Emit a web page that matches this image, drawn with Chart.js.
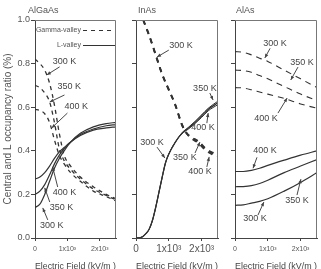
<!DOCTYPE html>
<html><head><meta charset="utf-8">
<script src="https://cdn.jsdelivr.net/npm/chart.js@4.4.1/dist/chart.umd.min.js"></script>
<style>
html,body{margin:0;padding:0;background:#fff;overflow:hidden;width:321px;height:269px;position:relative;}
canvas{position:absolute;top:0;}
</style></head><body>
<canvas id="c1" width="120" height="275" style="left:0px"></canvas>
<canvas id="c2" width="102" height="275" style="left:120px"></canvas>
<canvas id="c3" width="99" height="275" style="left:222px"></canvas>
<script>
// ---------- data ----------
const panelTitles = ['AlGaAs', 'InAs', 'AlAs'];
const yTickValues = [0, 0.2, 0.4, 0.6, 0.8, 1.0];
const xTickValues = [0, 1000, 2000];
const tempLabels = ['300 K', '350 K', '400 K'];

// AlGaAs
const algaasField = [0, 150, 300, 450, 600, 750, 900, 1100, 1400, 1800, 2200, 2500];
const algaasGamma300 = [0.82, 0.80, 0.77, 0.71, 0.61, 0.48, 0.38, 0.33, 0.28, 0.235, 0.20, 0.18];
const algaasGamma350 = [0.70, 0.69, 0.665, 0.625, 0.53, 0.41, 0.355, 0.315, 0.27, 0.225, 0.195, 0.175];
const algaasGamma400 = [0.59, 0.585, 0.57, 0.53, 0.45, 0.38, 0.34, 0.30, 0.26, 0.215, 0.19, 0.17];
const algaasL300 = [0.14, 0.155, 0.20, 0.26, 0.32, 0.365, 0.40, 0.44, 0.48, 0.51, 0.525, 0.53];
const algaasL350 = [0.20, 0.215, 0.245, 0.29, 0.34, 0.38, 0.41, 0.44, 0.475, 0.50, 0.515, 0.52];
const algaasL400 = [0.27, 0.28, 0.30, 0.33, 0.365, 0.395, 0.415, 0.44, 0.47, 0.495, 0.505, 0.51];

// InAs
const inasGammaField = [220, 400, 600, 800, 1000, 1200, 1400, 1550, 1700, 1900, 2100, 2300, 2500];
const inasGamma300 = [1.0, 0.93, 0.84, 0.75, 0.68, 0.61, 0.52, 0.48, 0.46, 0.44, 0.41, 0.39, 0.38];
const inasGamma350 = [1.0, 0.93, 0.84, 0.75, 0.68, 0.61, 0.52, 0.48, 0.462, 0.445, 0.415, 0.395, 0.385];
const inasGamma400 = [1.0, 0.93, 0.84, 0.75, 0.68, 0.61, 0.52, 0.478, 0.455, 0.435, 0.405, 0.385, 0.375];
const inasLField = [0, 100, 200, 300, 400, 500, 600, 700, 800, 900, 1000, 1200, 1400, 1600, 1800, 2000, 2200, 2500];
const inasL300 = [0, 0.001, 0.006, 0.02, 0.04, 0.08, 0.14, 0.21, 0.28, 0.345, 0.385, 0.44, 0.48, 0.505, 0.53, 0.56, 0.59, 0.62];
const inasL350 = [0, 0.001, 0.006, 0.02, 0.04, 0.08, 0.14, 0.21, 0.28, 0.345, 0.385, 0.44, 0.482, 0.508, 0.535, 0.565, 0.595, 0.628];
const inasL400 = [0, 0.001, 0.006, 0.02, 0.04, 0.08, 0.14, 0.21, 0.28, 0.345, 0.385, 0.44, 0.478, 0.50, 0.525, 0.553, 0.583, 0.612];

// AlAs
const alasField = [0, 250, 500, 750, 1000, 1500, 2000, 2500];
const alasGamma300 = [0.855, 0.852, 0.84, 0.825, 0.81, 0.77, 0.73, 0.69];
const alasGamma350 = [0.77, 0.768, 0.76, 0.745, 0.73, 0.695, 0.66, 0.63];
const alasGamma400 = [0.69, 0.688, 0.68, 0.67, 0.66, 0.64, 0.615, 0.595];
const alasL300 = [0.15, 0.152, 0.16, 0.168, 0.18, 0.215, 0.255, 0.30];
const alasL350 = [0.235, 0.236, 0.24, 0.25, 0.265, 0.30, 0.33, 0.36];
const alasL400 = [0.305, 0.305, 0.31, 0.32, 0.333, 0.357, 0.38, 0.40];

// annotations: [label, text x, text y, arrow from x, from y, arrow to x, to y] in data units
const algaasNotes = [
  [tempLabels[0], 910, 0.81, 760, 0.785, 364, 0.748],
  [tempLabels[1], 1060, 0.693, 910, 0.656, 455, 0.624],
  [tempLabels[2], 1270, 0.605, 1000, 0.573, 515, 0.505],
  [tempLabels[2], 910, 0.21, 700, 0.234, 545, 0.326],
  [tempLabels[1], 820, 0.138, 455, 0.165, 300, 0.23],
  [tempLabels[0], 515, 0.055, 394, 0.083, 240, 0.138]
];
const inasNotes = [
  [tempLabels[0], 1370, 0.885, 1000, 0.862, 640, 0.83],
  [tempLabels[1], 2100, 0.688, 2250, 0.665, 2350, 0.633],
  [tempLabels[2], 2040, 0.505, 2160, 0.527, 2200, 0.573],
  [tempLabels[0], 490, 0.436, 640, 0.417, 880, 0.367],
  [tempLabels[1], 1490, 0.367, 1800, 0.39, 1950, 0.44],
  [tempLabels[2], 1950, 0.307, 2160, 0.326, 2230, 0.372]
];
const alasNotes = [
  [tempLabels[0], 1220, 0.894, 1070, 0.87, 910, 0.826],
  [tempLabels[1], 2040, 0.807, 1920, 0.784, 1700, 0.725],
  [tempLabels[2], 945, 0.55, 1310, 0.573, 1590, 0.642],
  [tempLabels[2], 915, 0.40, 670, 0.37, 550, 0.32],
  [tempLabels[1], 1890, 0.174, 1890, 0.197, 2010, 0.27],
  [tempLabels[0], 610, 0.09, 700, 0.105, 880, 0.165]
];
const legendLabels = ['Gamma-valley', 'L-valley'];
const xTitle = 'Electric Field (kV/m )';
const yTitle = 'Central and L occupancy ratio (%)';

// ---------- rendering ----------
Chart.defaults.font.family = '"Liberation Sans", Arial, Helvetica, sans-serif';
Chart.defaults.color = '#555';
const INK = '#333';

function series(xs, ys, dashed, width, dash) {
  return {
    data: xs.map((x, i) => ({x: x, y: ys[i]})),
    borderColor: INK, borderWidth: width,
    borderDash: dashed ? dash : [],
    pointRadius: 0, fill: false,
    cubicInterpolationMode: 'monotone'
  };
}

function drawArrow(ctx, x1, y1, x2, y2) {
  ctx.beginPath(); ctx.moveTo(x1, y1); ctx.lineTo(x2, y2); ctx.stroke();
  const a = Math.atan2(y2 - y1, x2 - x1), L = 4, w = 1.7;
  ctx.beginPath();
  ctx.moveTo(x2, y2);
  ctx.lineTo(x2 - L * Math.cos(a) + w * Math.sin(a), y2 - L * Math.sin(a) - w * Math.cos(a));
  ctx.lineTo(x2 - L * Math.cos(a) - w * Math.sin(a), y2 - L * Math.sin(a) + w * Math.cos(a));
  ctx.closePath(); ctx.fill();
}

const decorPlugin = {
  id: 'decor',
  afterDraw(chart, args, o) {
    const ctx = chart.ctx, a = chart.chartArea, xs = chart.scales.x, ys = chart.scales.y;
    ctx.save();
    // frame (top & right)
    ctx.strokeStyle = '#777'; ctx.lineWidth = 1;
    ctx.beginPath();
    ctx.moveTo(a.left, a.top + 0.5); ctx.lineTo(a.right - 0.5, a.top + 0.5); ctx.lineTo(a.right - 0.5, a.bottom);
    ctx.stroke();
    // title
    ctx.fillStyle = '#555'; ctx.font = '9px "Liberation Sans", Arial, sans-serif';
    ctx.textAlign = 'left'; ctx.textBaseline = 'middle';
    ctx.fillText(o.title, a.left + o.titleDx, 11);
    // annotations
    ctx.fillStyle = '#444'; ctx.strokeStyle = '#333'; ctx.lineWidth = 0.9;
    ctx.font = '9px "Liberation Sans", Arial, sans-serif'; ctx.textAlign = 'center';
    (o.notes || []).forEach(n => {
      ctx.fillText(n[0], xs.getPixelForValue(n[1]), ys.getPixelForValue(n[2]));
      drawArrow(ctx, xs.getPixelForValue(n[3]), ys.getPixelForValue(n[4]),
        xs.getPixelForValue(n[5]), ys.getPixelForValue(n[6]));
    });
    // legend
    if (o.legend) {
      ctx.font = '7px "Liberation Sans", Arial, sans-serif'; ctx.textAlign = 'right';
      ctx.fillStyle = '#555';
      const rows = [[legendLabels[0], true, 10], [legendLabels[1], false, 25]];
      rows.forEach(r => {
        const y = Math.round(a.top + r[2]) + 0.5;
        ctx.fillText(r[0], a.right - 35, y);
        ctx.strokeStyle = INK; ctx.lineWidth = 1;
        ctx.setLineDash(r[1] ? [4, 4] : []);
        ctx.beginPath(); ctx.moveTo(a.right - 33, y); ctx.lineTo(a.right - 1, y); ctx.stroke();
      });
      ctx.setLineDash([]);
    }
    ctx.restore();
  }
};

function makeChart(id, datasets, cfg) {
  return new Chart(document.getElementById(id), {
    type: 'line',
    data: {datasets: datasets},
    plugins: [decorPlugin],
    options: {
      responsive: false, animation: false, events: [],
      layout: {padding: {top: 20, right: 4, left: 0, bottom: 0}},
      plugins: {
        legend: {display: false}, tooltip: {enabled: false},
        decor: {title: cfg.title, titleDx: cfg.titleDx, notes: cfg.notes, legend: cfg.legend}
      },
      scales: {
        x: {
          type: 'linear', min: 0, max: 2500,
          afterBuildTicks: s => { s.ticks = xTickValues.map(v => ({value: v})); },
          afterFit: s => { s.height = 37; },
          ticks: {
            font: {size: cfg.xFont}, color: '#555', padding: cfg.xPad, maxRotation: 0,
            callback: v => v === 0 ? '0' : (v / 1000) + 'x10\u00B3'
          },
          grid: {drawOnChartArea: false, drawTicks: true, tickLength: 3, color: '#444'},
          border: {display: true, color: '#444', width: 1},
          title: {display: true, text: xTitle, font: {size: 9}, color: '#444', padding: {top: 0, bottom: 3}}
        },
        y: {
          type: 'linear', min: 0, max: 1,
          afterBuildTicks: s => { s.ticks = yTickValues.map(v => ({value: v})); },
          afterFit: s => { s.width = cfg.yWidth; },
          ticks: {
            display: cfg.yLabels, font: {size: 9}, color: '#555', padding: 1,
            callback: v => v.toFixed(1)
          },
          grid: {drawOnChartArea: false, drawTicks: true, tickLength: 4, color: '#444'},
          border: {display: true, color: '#444', width: 1},
          title: {display: cfg.yLabels, text: yTitle, font: {size: 10}, color: '#555', padding: {top: 2, bottom: 0}}
        }
      }
    }
  });
}

makeChart('c1', [
  series(algaasField, algaasGamma300, true, 1.3, [4, 4]),
  series(algaasField, algaasGamma350, true, 1.3, [4, 4]),
  series(algaasField, algaasGamma400, true, 1.3, [4, 4]),
  series(algaasField, algaasL300, false, 1.2),
  series(algaasField, algaasL350, false, 1.2),
  series(algaasField, algaasL400, false, 1.2)
], {title: panelTitles[0], titleDx: -7, notes: algaasNotes, legend: true, xFont: 7, xPad: 4, yWidth: 35, yLabels: true});

makeChart('c2', [
  series(inasGammaField, inasGamma300, true, 2, [5, 5]),
  series(inasGammaField, inasGamma350, true, 1.5, [5, 5]),
  series(inasGammaField, inasGamma400, true, 1.5, [5, 5]),
  series(inasLField, inasL300, false, 1.3),
  series(inasLField, inasL350, false, 1.0),
  series(inasLField, inasL400, false, 1.0)
], {title: panelTitles[1], titleDx: 2, notes: inasNotes, legend: false, xFont: 10, xPad: 2, yWidth: 16, yLabels: false});

makeChart('c3', [
  series(alasField, alasGamma300, true, 1.1, [6, 5]),
  series(alasField, alasGamma350, true, 1.1, [6, 5]),
  series(alasField, alasGamma400, true, 1.1, [6, 5]),
  series(alasField, alasL300, false, 1.2),
  series(alasField, alasL350, false, 1.2),
  series(alasField, alasL400, false, 1.2)
], {title: panelTitles[2], titleDx: 1, notes: alasNotes, legend: false, xFont: 7, xPad: 4, yWidth: 13, yLabels: false});
</script>
</body></html>
